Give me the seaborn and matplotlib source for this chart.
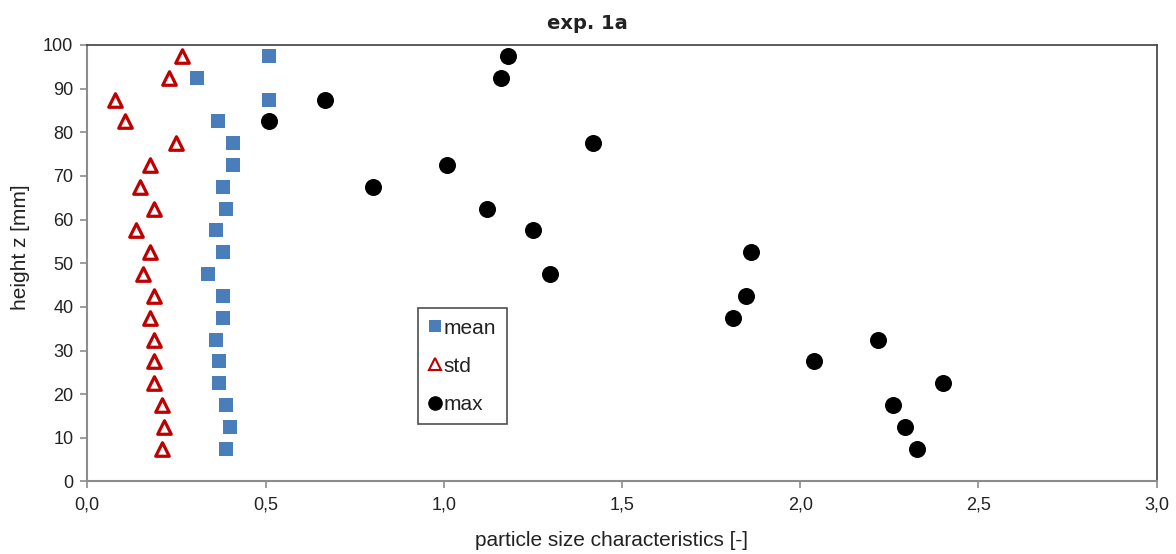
import numpy as np
import pandas as pd
import matplotlib
matplotlib.use('Agg')
import matplotlib.pyplot as plt
from matplotlib.ticker import FuncFormatter, MultipleLocator
from matplotlib.lines import Line2D
import seaborn as sns

# heights of the measurement layers [mm]
height = [97.5, 92.5, 87.5, 82.5, 77.5, 72.5, 67.5, 62.5, 57.5, 52.5,
          47.5, 42.5, 37.5, 32.5, 27.5, 22.5, 17.5, 12.5, 7.5]

mean_vals = [0.511, 0.307, 0.511, 0.368, 0.410, 0.410, 0.381, 0.388, 0.360, 0.381,
             0.340, 0.381, 0.381, 0.360, 0.369, 0.369, 0.388, 0.400, 0.388]
std_vals = [0.265, 0.229, 0.079, 0.107, 0.250, 0.176, 0.148, 0.188, 0.136, 0.176,
            0.156, 0.188, 0.176, 0.188, 0.188, 0.188, 0.209, 0.216, 0.209]
max_vals = [1.180, 1.160, 0.667, 0.511, 1.418, 1.009, 0.801, 1.121, 1.250, 1.862,
            1.298, 1.848, 1.811, 2.218, 2.038, 2.401, 2.260, 2.294, 2.328]

df = pd.DataFrame({'height': height, 'mean': mean_vals, 'std': std_vals, 'max': max_vals})

sns.set_style('white')
plt.rcParams['font.family'] = ['Liberation Sans', 'DejaVu Sans']

fig = plt.figure(figsize=(11.76, 5.54), dpi=100)
ax = fig.add_axes([0.0742, 0.1309, 0.9094, 0.7879])

blue = '#4a7ebb'
red = '#c00000'
txt = '#222222'

sns.scatterplot(data=df, x='mean', y='height', ax=ax, marker='s', s=95,
                color=blue, edgecolor=blue, linewidth=0, zorder=3)
sns.scatterplot(data=df, x='std', y='height', ax=ax, marker='^', s=95,
                facecolor='white', edgecolor=red, linewidth=2.3, zorder=3)
sns.scatterplot(data=df, x='max', y='height', ax=ax, marker='o', s=150,
                color='black', edgecolor='black', linewidth=0, zorder=3)

ax.set_xlim(0, 3.0)
ax.set_ylim(0, 100)
ax.xaxis.set_major_locator(MultipleLocator(0.5))
ax.yaxis.set_major_locator(MultipleLocator(10))
ax.xaxis.set_major_formatter(FuncFormatter(lambda v, p: f'{v:.1f}'.replace('.', ',')))
ax.yaxis.set_major_formatter(FuncFormatter(lambda v, p: f'{v:.0f}'))

for side in ['left', 'bottom']:
    ax.spines[side].set_color('#8c8c8c')
    ax.spines[side].set_linewidth(1.5)
for side in ['top', 'right']:
    ax.spines[side].set_color('#404040')
    ax.spines[side].set_linewidth(1.2)

ax.tick_params(axis='both', bottom=True, left=True, direction='out', length=5,
               width=1.2, color='#8c8c8c', labelsize=13, labelcolor=txt)
ax.tick_params(axis='x', pad=6)
ax.tick_params(axis='y', pad=5)

ax.set_xlabel('particle size characteristics [-]', fontsize=15, color=txt)
ax.xaxis.set_label_coords(0.49, -0.113)
ax.set_ylabel('height z [mm]', fontsize=15, color=txt)
ax.yaxis.set_label_coords(-0.0536, 0.536)
fig.text(0.4995, 0.958, 'exp. 1a', fontsize=14, fontweight='bold', color=txt,
         family='DejaVu Sans', ha='center', va='center')

handles = [
    Line2D([], [], linestyle='none', marker='s', markersize=8.5, color=blue, markeredgewidth=0),
    Line2D([], [], linestyle='none', marker='^', markersize=8.5, markerfacecolor='white',
           markeredgecolor=red, markeredgewidth=1.5),
    Line2D([], [], linestyle='none', marker='o', markersize=9.5, color='black'),
]
leg = ax.legend(handles, ['mean', 'std', 'max'], loc='upper left',
                bbox_to_anchor=(0.309, 0.397), borderaxespad=0, frameon=True,
                fancybox=False, edgecolor=txt, fontsize=15, handletextpad=0.05,
                labelspacing=0.92, borderpad=0.5, handlelength=0.7)
leg.get_frame().set_linewidth(1.2)
for t in leg.get_texts():
    t.set_color(txt)

fig.savefig('out.png', dpi=100)
